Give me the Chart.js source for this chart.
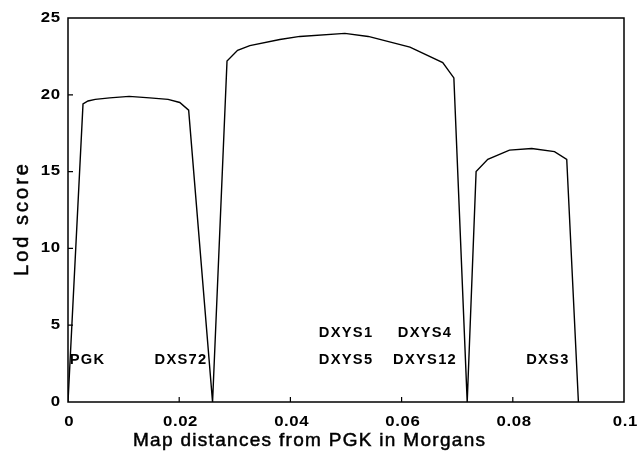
<!DOCTYPE html>
<html>
<head>
<meta charset="utf-8">
<script src="https://cdn.jsdelivr.net/npm/chart.js@4/dist/chart.umd.min.js"></script>
<style>
  html, body { margin: 0; padding: 0; background: #fff; }
  #wrap { width: 637px; height: 451px; }
</style>
</head>
<body>
<div id="wrap"><canvas id="lod"></canvas></div>
<script>
// Lod score curve
const mapX = [0, 0.0027, 0.0036, 0.0049, 0.0075, 0.011, 0.0147, 0.018, 0.0201, 0.0217, 0.026,
  0.0286, 0.0305, 0.0327, 0.0381, 0.0417, 0.0498, 0.054, 0.0615, 0.0674, 0.0694, 0.0718,
  0.0734, 0.0755, 0.0794, 0.0834, 0.0875, 0.0897, 0.0918];
const lodY = [0, 19.4, 19.6, 19.7, 19.8, 19.9, 19.8, 19.7, 19.5, 19.0, 0,
  22.2, 22.9, 23.2, 23.6, 23.8, 24.0, 23.8, 23.1, 22.1, 21.1, 0,
  15.0, 15.8, 16.4, 16.5, 16.3, 15.8, 0];

// marker labels
const markerNames = ["PGK", "DXS72", "DXYS1", "DXYS5", "DXYS4", "DXYS12", "DXS3"];
const markerX = [0.0034, 0.0202, 0.0499, 0.0499, 0.0641, 0.0641, 0.0862];
const markerY = [2.7, 2.7, 4.5, 2.7, 4.5, 2.7, 2.7];

const xTicks = [0, 0.02, 0.04, 0.06, 0.08, 0.1];
const yTicks = [0, 5, 10, 15, 20, 25];
const xTitle = "Map distances from PGK in Morgans";
const yTitle = "Lod score";

const FONT = "'Liberation Sans', Arial, sans-serif";

// text a bit stretched and spaced out, like the scan
function drawText(ctx, text, x, y, o) {
  ctx.save();
  ctx.font = o.font;
  ctx.letterSpacing = (o.sp || 0) + "px";
  ctx.textAlign = "left";
  ctx.textBaseline = "middle";
  const w = ctx.measureText(text).width - (o.sp || 0);
  ctx.translate(x, y);
  if (o.rot) ctx.rotate(o.rot);
  ctx.scale(o.sx || 1, 1);
  const off = o.align === "right" ? -w : o.align === "left" ? 0 : -w / 2;
  ctx.fillText(text, off, 0);
  if (o.stroke) {
    ctx.lineWidth = o.stroke;
    ctx.strokeText(text, off, 0);
  }
  ctx.restore();
}

const framePlugin = {
  id: "frame",
  afterDatasetsDraw(chart) {
    const { ctx, chartArea: a, scales } = chart;
    ctx.save();
    ctx.strokeStyle = "#000";
    ctx.fillStyle = "#000";
    ctx.lineWidth = 1.5;
    ctx.strokeRect(a.left, a.top, a.right - a.left, a.bottom - a.top);
    ctx.lineWidth = 1.2;
    ctx.beginPath();
    xTicks.slice(1, -1).forEach(v => {
      const px = scales.x.getPixelForValue(v);
      ctx.moveTo(px, a.bottom);
      ctx.lineTo(px, a.bottom - 5);
    });
    yTicks.slice(1, -1).forEach(v => {
      const py = scales.y.getPixelForValue(v);
      ctx.moveTo(a.left, py);
      ctx.lineTo(a.left + 5, py);
    });
    ctx.stroke();

    const tickFont = { font: "bold 14px " + FONT, sx: 1.2, sp: 0.5 };
    xTicks.forEach(v => {
      drawText(ctx, String(v), scales.x.getPixelForValue(v) + 1, a.bottom + 20, tickFont);
    });
    yTicks.forEach(v => {
      drawText(ctx, String(v), a.left - 8, scales.y.getPixelForValue(v), { ...tickFont, align: "right" });
    });

    markerNames.forEach((name, i) => {
      drawText(ctx, name, scales.x.getPixelForValue(markerX[i]), scales.y.getPixelForValue(markerY[i]),
        { font: "bold 14px " + FONT, sx: 1.05, sp: 1.2 });
    });

    drawText(ctx, xTitle, 309, a.bottom + 39, { font: "19px " + FONT, sp: 1.3, stroke: 0.5 });
    drawText(ctx, yTitle, 22, 220, { font: "20px " + FONT, sp: 3, rot: -Math.PI / 2, stroke: 0.5 });
    ctx.restore();
  }
};

new Chart(document.getElementById("lod"), {
  type: "line",
  data: {
    datasets: [{
      data: mapX.map((x, i) => ({ x, y: lodY[i] })),
      borderColor: "#000",
      borderWidth: 1.4,
      pointRadius: 0,
      tension: 0,
      fill: false
    }]
  },
  options: {
    responsive: true,
    maintainAspectRatio: false,
    animation: false,
    layout: { padding: { top: 18, right: 13, left: 0, bottom: 0 } },
    plugins: { legend: { display: false }, tooltip: { enabled: false } },
    scales: {
      x: {
        type: "linear",
        min: 0,
        max: 0.1,
        afterBuildTicks: s => { s.ticks = xTicks.map(v => ({ value: v })); },
        afterFit: s => { s.height = 49; },
        grid: { display: false, drawTicks: false },
        border: { display: false },
        ticks: { display: false }
      },
      y: {
        min: 0,
        max: 25,
        afterBuildTicks: s => { s.ticks = yTicks.map(v => ({ value: v })); },
        afterFit: s => { s.width = 68; },
        grid: { display: false, drawTicks: false },
        border: { display: false },
        ticks: { display: false }
      }
    }
  },
  plugins: [framePlugin]
});
</script>
</body>
</html>
